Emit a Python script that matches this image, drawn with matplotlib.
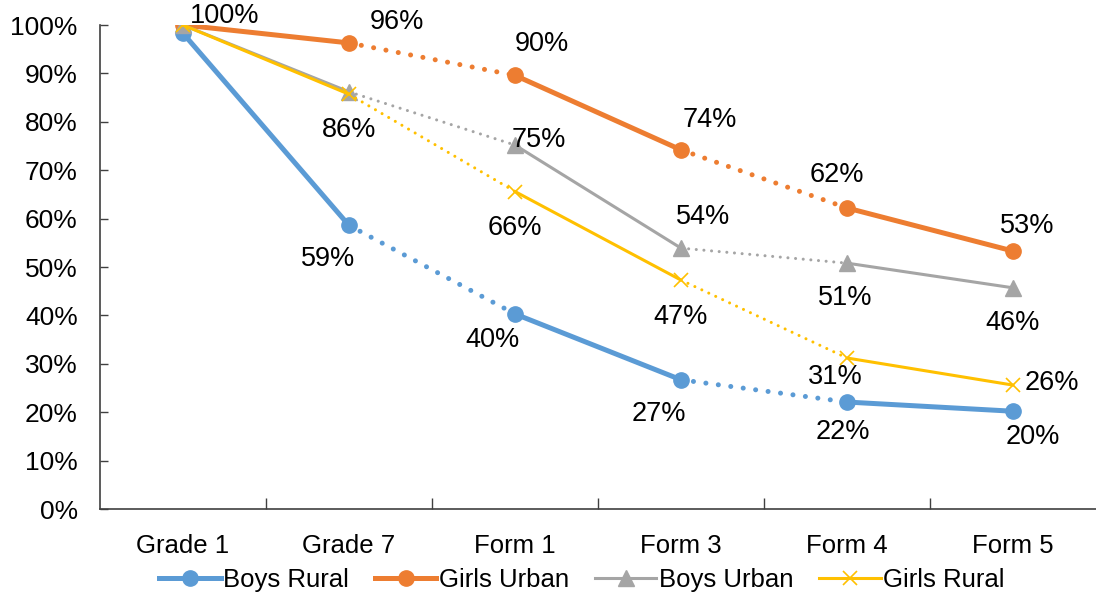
import matplotlib
matplotlib.use("Agg")
import matplotlib.pyplot as plt
from matplotlib.lines import Line2D
from matplotlib.ticker import PercentFormatter, FixedLocator

plt.rcParams['font.family'] = ['Liberation Sans', 'DejaVu Sans']

stages = ['Grade 1', 'Grade 7', 'Form 1', 'Form 3', 'Form 4', 'Form 5']

boys_rural = [98.3, 58.6, 40.3, 26.7, 22.1, 20.2]
girls_urban = [100.0, 96.3, 89.6, 74.2, 62.2, 53.3]
boys_urban = [100.0, 86.2, 75.2, 53.9, 50.8, 45.7]
girls_rural = [100.0, 85.7, 65.6, 47.3, 31.2, 25.6]

# which points carry a value label
boys_rural_lbl = [False, True, True, True, True, True]
girls_urban_lbl = [True, True, True, True, True, True]
boys_urban_lbl = [False, False, True, True, True, True]
girls_rural_lbl = [False, True, True, True, True, True]

# label offsets in pixels (dx, dy), dy positive = up
boys_rural_off = [None, (-21, -34), (-22, -26), (-22, -34), (-4, -30), (20, -26)]
girls_urban_off = [(42, 9), (48, 21), (27, 31), (29, 30), (-10, 33), (14, 25)]
boys_urban_off = [None, None, (24, 5), (22, 31), (-2, -35), (0, -35)]
girls_rural_off = [None, (0, -36), (0, -36), (0, -37), (-12, -19), (39, 2)]

# segment style between consecutive points
seg_styles = ['-', ':', '-', ':', '-']

series = [
    ('Boys Rural', boys_rural, boys_rural_lbl, boys_rural_off, '#5B9BD5', 'o', 3.6, 11, 0),
    ('Girls Urban', girls_urban, girls_urban_lbl, girls_urban_off, '#ED7D31', 'o', 3.6, 11, 0),
    ('Boys Urban', boys_urban, boys_urban_lbl, boys_urban_off, '#A5A5A5', '^', 2.2, 11, 0),
    ('Girls Rural', girls_rural, girls_rural_lbl, girls_rural_off, '#FFC000', 'x', 2.2, 10, 1.2),
]

fig = plt.figure(figsize=(10.96, 5.97), dpi=100)
ax = fig.add_axes([0.0912, 0.1474, 0.9088, 0.8107])

x = list(range(len(stages)))
handles = []
for name, vals, lbl, off, color, marker, lw, ms, mew in series:
    for i, style in enumerate(seg_styles):
        if style == '-':
            ax.plot(x[i:i + 2], vals[i:i + 2], color=color, lw=lw,
                    solid_capstyle='round')
        else:
            ax.plot(x[i:i + 2], vals[i:i + 2], color=color, lw=lw,
                    linestyle=(0, (0.01, 2.5)), dash_capstyle='round')
    if marker == 'x':
        ax.plot(x, vals, ls='none', marker=marker, ms=ms, mew=mew,
                color=color)
    else:
        ax.plot(x, vals, ls='none', marker=marker, ms=ms, color=color,
                mec=color)
    for i, v in enumerate(vals):
        if lbl[i]:
            dx, dy = off[i]
            ax.annotate(f'{round(v):d}%', (x[i], v), xytext=(dx, dy),
                        textcoords='offset pixels', ha='center', va='center',
                        fontsize=19.5, color='black')
    handles.append(Line2D([], [], color=color, lw=lw, marker=marker, ms=ms,
                          mew=mew if marker == 'x' else 1, label=name))

ax.set_xlim(-0.5, len(stages) - 0.5)
ax.set_ylim(0, 100)
ax.set_yticks(range(0, 101, 10))
ax.yaxis.set_major_formatter(PercentFormatter(decimals=0))
ax.set_xticks(x)
ax.set_xticklabels(stages)
ax.xaxis.set_minor_locator(FixedLocator([i + 0.5 for i in x[:-1]]))

for side in ['top', 'right']:
    ax.spines[side].set_visible(False)
for side in ['left', 'bottom']:
    ax.spines[side].set_color('#404040')
    ax.spines[side].set_linewidth(1.2)
ax.spines['bottom'].set_zorder(0.5)

ax.tick_params(axis='y', direction='in', length=6, width=1, color='#404040',
               labelsize=19, pad=16)
ax.tick_params(axis='x', which='major', length=0, labelsize=18.5, pad=18)
ax.tick_params(axis='x', which='minor', direction='in', length=8, width=1,
               color='#404040')

fig.legend(handles=handles, loc='center', bbox_to_anchor=(0.531, 0.028),
           ncol=4, frameon=False, fontsize=18.5, handlelength=2.4,
           handletextpad=0.1, columnspacing=1.0)

fig.savefig('out.png', dpi=100, facecolor='white')
